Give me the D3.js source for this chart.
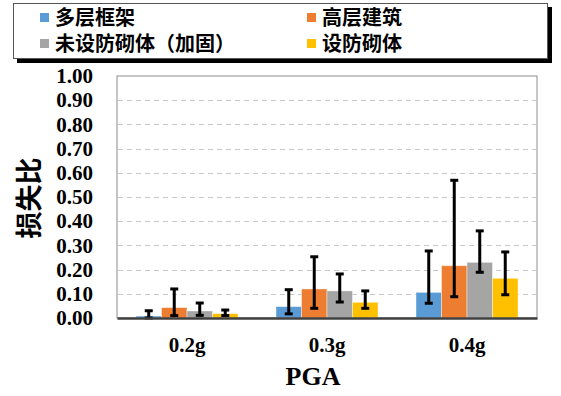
<!DOCTYPE html>
<html>
<head>
<meta charset="utf-8">
<script src="https://cdn.jsdelivr.net/npm/d3@7"></script>
<style>
	body { margin: 0; background: #ffffff; }
	svg { display: block; }
</style>
</head>
<body>
<script>
'use strict';

// chart data
const categories = ['0.2g', '0.3g', '0.4g'];
const seriesNames = ['多层框架', '高层建筑', '未设防砌体（加固）', '设防砌体'];
const seriesColors = ['#5B9BD5', '#ED7D31', '#A5A5A5', '#FFC000'];
// bar values per series, one per category
const values = [
	[0.008, 0.047, 0.106],
	[0.043, 0.120, 0.216],
	[0.029, 0.112, 0.230],
	[0.018, 0.065, 0.164]
];
// error bar ends (low / high) per series
const errLow = [
	[0.000, 0.017, 0.061],
	[0.010, 0.040, 0.088],
	[0.011, 0.066, 0.189],
	[0.010, 0.040, 0.096]
];
const errHigh = [
	[0.030, 0.117, 0.277],
	[0.120, 0.253, 0.569],
	[0.062, 0.182, 0.360],
	[0.033, 0.112, 0.273]
];
const yTicks = [0, 0.1, 0.2, 0.3, 0.4, 0.5, 0.6, 0.7, 0.8, 0.9, 1.0];

const DIM = {
	width: 561,
	height: 396,
	plot: { left: 117, top: 76, right: 537, bottom: 318 }
};

const serif = '"Liberation Serif", "Times New Roman", serif';
const cjk = '"Noto Sans CJK SC", sans-serif';

let svg = d3.select('body').append('svg')
	.attr('width', DIM.width)
	.attr('height', DIM.height);

let x0 = d3.scaleBand()
	.domain(categories)
	.range([DIM.plot.left, DIM.plot.right]);
let x1 = d3.scaleBand()
	.domain(d3.range(seriesNames.length))
	.range([19, x0.bandwidth() - 19]);
let y = d3.scaleLinear()
	.domain([0, 1])
	.range([DIM.plot.bottom, DIM.plot.top]);

// plot frame
svg.append('rect')
	.attr('x', DIM.plot.left)
	.attr('y', DIM.plot.top)
	.attr('width', DIM.plot.right - DIM.plot.left)
	.attr('height', DIM.plot.bottom - DIM.plot.top)
	.attr('fill', 'none')
	.attr('stroke', '#8c8c8c')
	.attr('stroke-width', 1);

// dashed gridlines
svg.append('g')
	.selectAll('line')
	.data(yTicks.filter((d) => d > 0 && d < 1))
	.enter()
	.append('line')
	.attr('x1', DIM.plot.left + 1)
	.attr('x2', DIM.plot.right - 1)
	.attr('y1', (d) => Math.round(y(d)) + 0.5)
	.attr('y2', (d) => Math.round(y(d)) + 0.5)
	.attr('stroke', '#c8c8c8')
	.attr('stroke-width', 1.2)
	.attr('stroke-dasharray', '5,4');

// y axis labels
let yAxis = d3.axisLeft(y)
	.tickValues(yTicks)
	.tickFormat(d3.format('.2f'))
	.tickSize(0)
	.tickPadding(24);
let yG = svg.append('g')
	.attr('transform', 'translate(' + DIM.plot.left + ',0)')
	.attr('font-family', serif)
	.call(yAxis);
yG.select('.domain').remove();
yG.selectAll('text')
	.style('font-family', serif)
	.attr('font-weight', 'bold')
	.attr('font-size', 21)
	.attr('fill', '#000');

// bars
let groups = svg.append('g')
	.selectAll('g')
	.data(categories)
	.enter()
	.append('g')
	.attr('transform', (d) => 'translate(' + x0(d) + ',0)');

groups.selectAll('rect')
	.data((d, ci) => seriesNames.map((s, si) => ({ si: si, v: values[si][ci] })))
	.enter()
	.append('rect')
	.attr('x', (d) => x1(d.si))
	.attr('width', x1.bandwidth())
	.attr('y', (d) => y(d.v))
	.attr('height', (d) => y(0) - y(d.v))
	.attr('fill', (d) => seriesColors[d.si])
	.attr('stroke', '#ffffff')
	.attr('stroke-opacity', 0.5)
	.attr('stroke-width', 0.8);

// error bars
let errs = groups.selectAll('g.err')
	.data((d, ci) => seriesNames.map((s, si) => ({ si: si, lo: errLow[si][ci], hi: errHigh[si][ci] })))
	.enter()
	.append('g')
	.attr('class', 'err')
	.attr('transform', (d) => 'translate(' + (x1(d.si) + x1.bandwidth() / 2) + ',0)');
errs.append('line')
	.attr('x1', 0).attr('x2', 0)
	.attr('y1', (d) => y(d.lo))
	.attr('y2', (d) => y(d.hi))
	.attr('stroke', '#000')
	.attr('stroke-width', 3);
errs.append('line')
	.attr('x1', -4).attr('x2', 4)
	.attr('y1', (d) => y(d.hi))
	.attr('y2', (d) => y(d.hi))
	.attr('stroke', '#000')
	.attr('stroke-width', 3);
errs.append('line')
	.attr('x1', -4).attr('x2', 4)
	.attr('y1', (d) => y(d.lo))
	.attr('y2', (d) => y(d.lo))
	.attr('stroke', '#000')
	.attr('stroke-width', 3);

// x axis line and labels
let xAxis = d3.axisBottom(x0).tickSize(0).tickPadding(19);
let xG = svg.append('g')
	.attr('transform', 'translate(0,' + DIM.plot.bottom + ')')
	.call(xAxis);
xG.select('.domain')
	.attr('stroke', '#404040')
	.attr('stroke-width', 2.5);
xG.selectAll('text')
	.style('font-family', serif)
	.attr('font-weight', 'bold')
	.attr('font-size', 21)
	.attr('fill', '#000');

// axis titles
svg.append('text')
	.attr('x', 313)
	.attr('y', 385)
	.attr('text-anchor', 'middle')
	.attr('font-family', serif)
	.attr('font-weight', 'bold')
	.attr('font-size', 26)
	.text('PGA');

svg.append('text')
	.attr('transform', 'translate(30,198) rotate(-90)')
	.attr('text-anchor', 'middle')
	.attr('dy', '0.35em')
	.attr('font-family', cjk)
	.attr('font-weight', 'bold')
	.attr('font-size', 27)
	.text('损失比');

// legend box with shadow
let legend = svg.append('g');
legend.append('rect')
	.attr('x', 17).attr('y', 7)
	.attr('width', 535).attr('height', 56)
	.attr('fill', '#000');
legend.append('rect')
	.attr('x', 13.5).attr('y', 3.5)
	.attr('width', 534).attr('height', 55)
	.attr('fill', '#fff')
	.attr('stroke', '#555')
	.attr('stroke-width', 1);

let legendPos = [[40, 17.5], [307, 17.5], [40, 43.5], [307, 43.5]];
let items = legend.selectAll('g.item')
	.data(seriesNames)
	.enter()
	.append('g')
	.attr('class', 'item')
	.attr('transform', (d, i) => 'translate(' + legendPos[i][0] + ',' + legendPos[i][1] + ')');
items.append('rect')
	.attr('x', 0).attr('y', -4.5)
	.attr('width', 9).attr('height', 9)
	.attr('fill', (d, i) => seriesColors[i]);
items.append('text')
	.attr('x', 15)
	.attr('dy', '0.36em')
	.attr('font-family', cjk)
	.attr('font-weight', 'bold')
	.attr('font-size', 20)
	.text((d) => d);
</script>
</body>
</html>
